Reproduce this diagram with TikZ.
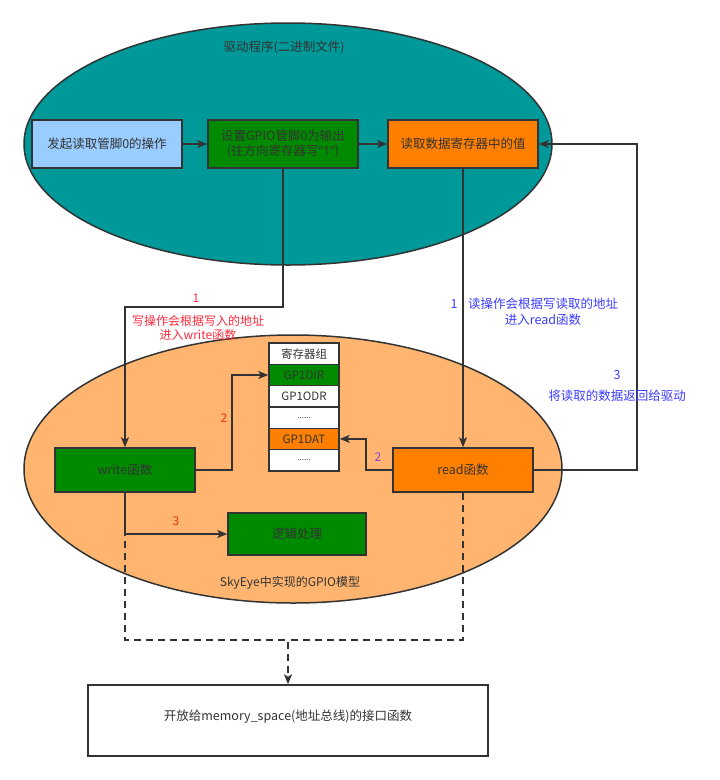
\documentclass[tikz,border=0pt]{standalone}
\usepackage{fontspec}
\setmainfont{Noto Sans CJK SC}
\newfontfamily\latinf{Noto Sans}
\usetikzlibrary{arrows.meta,shapes.geometric}
\definecolor{edge}{RGB}{51,51,51}
\definecolor{teal2}{RGB}{0,153,153}
\definecolor{lblue}{RGB}{153,204,255}
\definecolor{dgreen}{RGB}{0,138,0}
\definecolor{orng}{RGB}{255,128,0}
\definecolor{lorange}{RGB}{255,181,112}
\definecolor{redlab}{RGB}{255,40,60}
\definecolor{redlab2}{RGB}{240,50,20}
\definecolor{bluelab}{RGB}{60,60,255}
\definecolor{purplab}{RGB}{140,70,200}
\tikzset{
  every node/.style={text=edge},
  box/.style={draw=edge, line width=1.5pt, inner sep=0pt, align=center,
    font=\fontsize{12.5}{15}\selectfont},
  cell/.style={draw=edge, line width=1.5pt, fill=white, minimum width=70pt,
    minimum height=21.3pt, inner sep=0pt, font=\fontsize{11.5}{13}\selectfont},
  conn/.style={draw=edge, line width=1.5pt},
  arr/.style={conn, -{Stealth[length=10pt,width=8pt,inset=2.5pt]}},
  dashconn/.style={conn, dash pattern=on 7pt off 5pt},
  lab/.style={inner sep=0pt, align=center},
}
\begin{document}
\begin{tikzpicture}[x=1pt,y=-1pt]
\useasboundingbox (0,0) rectangle (720,780);
% ellipses
\node[draw=edge, line width=1.5pt, fill=teal2, ellipse, minimum width=528pt, minimum height=242pt, inner sep=0pt] (drv) at (288,144) {};
\node[draw=edge, line width=1.5pt, fill=lorange, ellipse, minimum width=538pt, minimum height=268pt, inner sep=0pt] (sky) at (293,469) {};
\node[lab, font=\fontsize{12.5}{15}\selectfont] (drvt) at (284,47) {驱动程序(二进制文件)};
\node[lab, font=\fontsize{12}{14}\selectfont] (skyt) at (290,583) {SkyEye中实现的GPIO模型};
% top boxes
\node[box, fill=lblue, minimum width=150pt, minimum height=48pt] (b1) at (107,144) {发起读取管脚0的操作};
\node[box, fill=dgreen, minimum width=150pt, minimum height=48pt] (b2) at (283,144) {设置GPIO管脚0为输出\\(往方向寄存器写{\latinf “1”})};
\node[box, fill=orng, minimum width=150pt, minimum height=48pt] (b3) at (463,144) {读取数据寄存器中的值};
% lower boxes
\node[box, fill=dgreen, minimum width=140pt, minimum height=44pt] (write) at (125,470) {write函数};
\node[box, fill=orng, minimum width=140pt, minimum height=44pt] (read) at (463,470) {read函数};
\node[box, fill=dgreen, minimum width=138pt, minimum height=42pt] (logic) at (297,534) {逻辑处理};
% register stack
\node[cell] (rg) at (304,353.7) {寄存器组};
\node[cell, fill=dgreen] (dir) at (304,375) {GP1DIR};
\node[cell] (odr) at (304,396.3) {GP1ODR};
\node[cell, font=\fontsize{8}{9}\selectfont] (dots1) at (304,417.6) {......};
\node[cell, fill=orng] (dat) at (304,438.9) {GP1DAT};
\node[cell, font=\fontsize{8}{9}\selectfont] (dots2) at (304,460.2) {......};
% bottom box
\node[box, fill=white, minimum width=400pt, minimum height=71pt] (bot) at (288,720.5) {};
\node[lab, font=\fontsize{12.5}{15}\selectfont] (bott) at (288,717) {开放给memory\_space(地址总线)的接口函数};
% coordinates
\coordinate (wbend) at (125,307);
\coordinate (rret) at (637,300);
\coordinate (wc) at (232,420);
\coordinate (rc) at (366,455);
\coordinate (dj) at (288,640);
% connectors
\draw[arr] (b1.east) -- (b2.west);
\draw[arr] (b2.east) -- (b3.west);
\draw[arr] (b2.south) |- (wbend) -- (write.north);
\draw[arr] (b3.south) -- (read.north);
\draw[arr] (read.east) -| (rret) |- (b3.east);
\draw[arr] (write.east) -| (wc) |- (dir.west);
\draw[arr] (read.west) -| (rc) |- (dat.east);
\draw[dashconn] (read.south) |- (dj);
\draw[dashconn, -{Stealth[length=10pt,width=8pt,inset=2.5pt]}] (write.south) |- (dj) -- (bot.north);
\draw[arr] (write.south) |- (logic.west);
% labels
\node[lab, text=redlab, font=\fontsize{12}{14}\selectfont] (l1) at (196,298) {1};
\node[lab, text=redlab, font=\fontsize{12}{14}\selectfont] (l1t) at (198,327.5) {写操作会根据写入的地址\\进入write函数};
\node[lab, text=bluelab, font=\fontsize{12.5}{16}\selectfont] (r1) at (454,304) {1};
\node[lab, text=bluelab, font=\fontsize{12.5}{16}\selectfont] (r1t) at (543,312) {读操作会根据写读取的地址\\进入read函数};
\node[lab, text=bluelab, font=\fontsize{12.5}{15}\selectfont] (r3) at (617,375) {3};
\node[lab, text=bluelab, font=\fontsize{12.5}{15}\selectfont] (r3t) at (617,396) {将读取的数据返回给驱动};
\node[lab, text=redlab2, font=\fontsize{12}{14}\selectfont] (w2) at (224,418) {2};
\node[lab, text=redlab2, font=\fontsize{12}{14}\selectfont] (w3) at (176,521) {3};
\node[lab, text=purplab, font=\fontsize{12}{14}\selectfont] (p2) at (378,457) {2};
\end{tikzpicture}
\end{document}
